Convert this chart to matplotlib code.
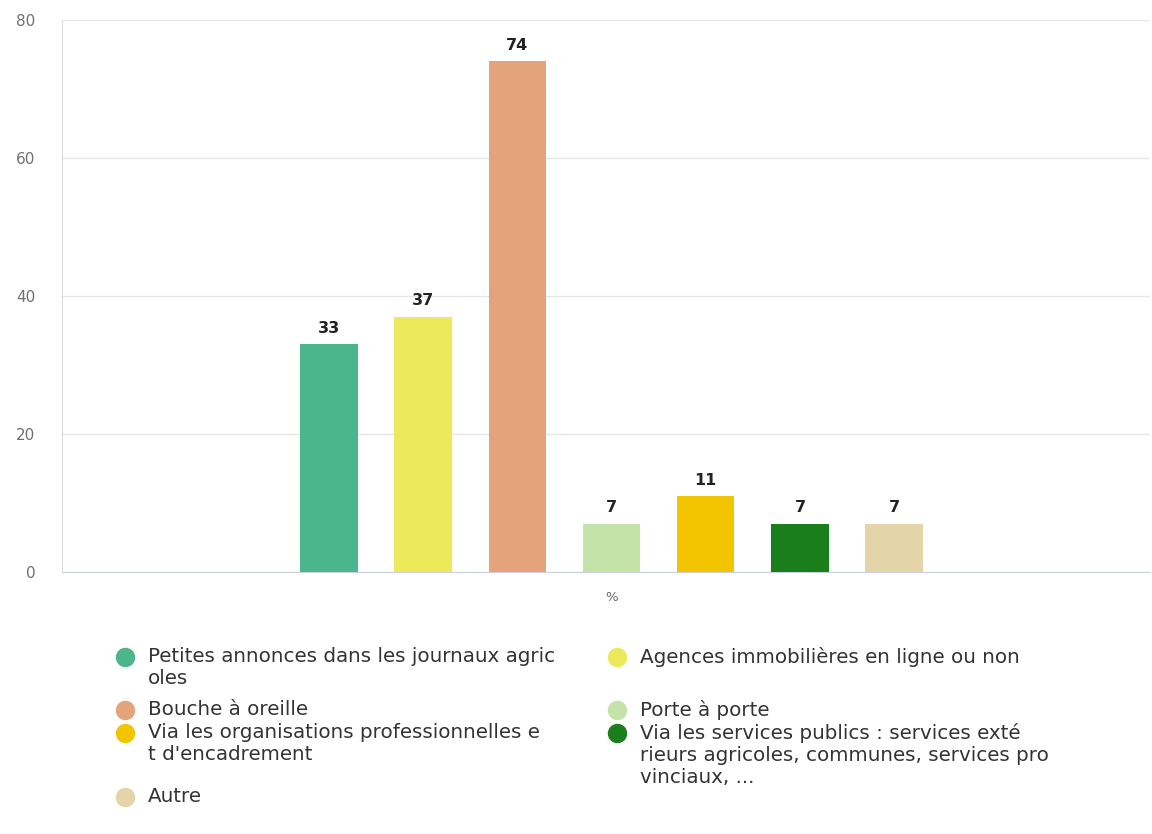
import numpy as np
import matplotlib.pyplot as plt

plt.rcParams['font.family'] = ['DejaVu Sans']

categories = [
    "Petites annonces dans les journaux agric\noles",
    "Agences immobilières en ligne ou non",
    "Bouche à oreille",
    "Porte à porte",
    "Via les organisations professionnelles e\nt d'encadrement",
    "Via les services publics : services exté\nrieurs agricoles, communes, services pro\nvinciaux, ...",
    "Autre",
]
values = [33, 37, 74, 7, 11, 7, 7]
colors = ['#4bb58b', '#ecea5a', '#e3a47c', '#c3e3a9', '#f2c500', '#1a7f1a', '#e3d5a8']
yticks = [0, 20, 40, 60, 80]
xlabel = "%"

W, H = 1152, 834
fig = plt.figure(figsize=(W / 100, H / 100), dpi=100)

def px(x, y):
    return x / W, 1 - y / H

l, t = px(62, 20)
r, b = px(1150, 572)
ax = fig.add_axes([l, b, r - l, t - b])

x = np.arange(len(values))
ax.bar(x, values, width=0.61, color=colors, zorder=3)
for xi, v in zip(x, values):
    ax.annotate(str(v), (xi, v), xytext=(0, 6), textcoords='offset points',
                ha='center', va='bottom', fontsize=11.5, fontweight='bold', color='#222222')

ax.set_xlim(-2.834, 8.716)
ax.set_ylim(0, 80)
ax.set_yticks(yticks)
ax.set_xticks([3])
ax.set_xticklabels([xlabel])
ax.tick_params(axis='x', length=0, pad=14, labelsize=9.5, labelcolor='#666666')
ax.tick_params(axis='y', length=0, pad=19, labelsize=11, labelcolor='#707070')
ax.grid(axis='y', color='#e6e6e6', linewidth=1, zorder=0)
for s in ['top', 'right']:
    ax.spines[s].set_visible(False)
ax.spines['left'].set_color('#dcdce6')
ax.spines['bottom'].set_color('#ccd0dc')

# legend, two columns drawn by hand
legend_pos = [
    (125, 657), (617, 657),
    (125, 710), (617, 710),
    (125, 733), (617, 733),
    (125, 797),
]
for (lx, ly), lab, c in zip(legend_pos, categories, colors):
    mx, my = px(lx, ly)
    fig.lines.append(plt.Line2D([mx], [my], marker='o', markersize=13, color=c,
                                transform=fig.transFigure, linestyle='none'))
    tx, ty = px(lx + 23, ly - 10)
    fig.text(tx, ty, lab, ha='left', va='top', fontsize=14.3, color='#333333',
             linespacing=1.2)

fig.savefig('out.png', dpi=100, facecolor='white')
